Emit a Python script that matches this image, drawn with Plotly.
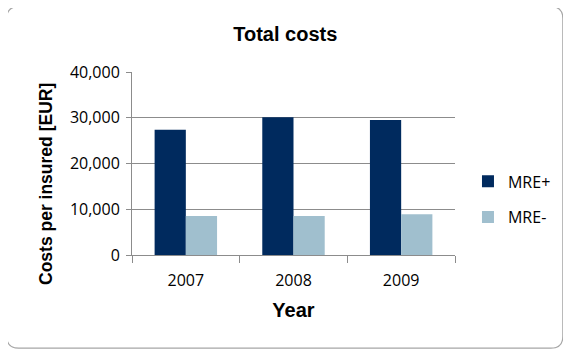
import plotly.graph_objects as go

years = ["2007", "2008", "2009"]
series_names = ["MRE+", "MRE-"]
mre_plus = [27400, 30100, 29500]
mre_minus = [8500, 8500, 8900]
y_ticks = [0, 10000, 20000, 30000, 40000]
y_tick_labels = ["0", "10,000", "20,000", "30,000", "40,000"]

# the page body has an 8px default margin; lay out in window pixels and shift
OFF = 8
WIN_W, WIN_H = 571, 357
W, H = WIN_W - OFF, WIN_H - OFF
L, R, T, B = 131.5 - OFF, WIN_W - 455, 71.5 - OFF, WIN_H - 254.7
pw, ph = W - L - R, H - T - B

def px_x(x):
    return (x - OFF - L) / pw

def px_y(y):
    return (WIN_H - B - y) / ph

fig = go.Figure()
fig.add_trace(go.Bar(x=years, y=mre_plus, name=series_names[0],
                     marker=dict(color="#002A5E", line=dict(width=0)),
                     legendgroup="a"))
fig.add_trace(go.Bar(x=years, y=mre_minus, name=series_names[1],
                     marker=dict(color="#A0BFCE", line=dict(width=0)),
                     legendgroup="b"))

# rounded outer border
x0, x1 = px_x(6), px_x(563)
y0, y1 = px_y(348), px_y(6)
rx = 12 / pw
ry = 12 / ph
path = (f"M {x0+rx},{y0} L {x1-rx},{y0} Q {x1},{y0} {x1},{y0+ry} "
        f"L {x1},{y1-ry} Q {x1},{y1} {x1-rx},{y1} L {x0+rx},{y1} "
        f"Q {x0},{y1} {x0},{y1-ry} L {x0},{y0+ry} Q {x0},{y0} {x0+rx},{y0} Z")

fig.update_layout(
    width=W, height=H,
    margin=dict(l=L, r=R, t=T, b=B, autoexpand=False),
    paper_bgcolor="white", plot_bgcolor="white",
    barmode="group", bargap=0.42, bargroupgap=0,
    title=dict(text="<b>Total costs</b>", x=px_x(285), xref="paper", xanchor="center",
               y=1 - (34 - OFF) / H, yanchor="middle",
               font=dict(family="Liberation Sans", size=20, color="black")),
    font=dict(family="Open Sans", size=16, color="black"),
    showlegend=True,
    legend=dict(x=px_x(468), xanchor="left", y=px_y(164), yanchor="top",
                font=dict(family="Open Sans", size=16, color="black"),
                tracegroupgap=12, bgcolor="rgba(0,0,0,0)"),
    xaxis=dict(
        title=dict(text="<b>Year</b>", font=dict(family="Liberation Sans", size=20, color="black"),
                   standoff=12),
        showline=True, linecolor="#8c8c8c", linewidth=1,
        ticks="outside", tickson="boundaries", ticklen=7, tickcolor="#8c8c8c",
        ticklabelstandoff=11,
        tickfont=dict(family="Open Sans", size=16, color="black"),
        showgrid=False,
    ),
    yaxis=dict(
        range=[0, 40000], tickvals=y_ticks, ticktext=y_tick_labels,
        showline=True, linecolor="#8c8c8c", linewidth=1,
        ticks="outside", ticklen=5, tickcolor="#8c8c8c",
        ticklabelstandoff=3,
        showgrid=True, gridcolor="#8c8c8c", gridwidth=1,
        zeroline=False,
        tickfont=dict(family="Open Sans", size=16, color="black"),
    ),
    annotations=[dict(text="<b>Costs per insured [EUR]</b>", textangle=-90,
                      xref="paper", yref="paper", x=px_x(46), y=px_y(184),
                      xanchor="center", yanchor="middle", showarrow=False,
                      font=dict(family="Liberation Sans", size=17.5, color="black"))],
    shapes=[dict(type="path", path=path, xref="paper", yref="paper",
                 line=dict(color="#a6a6a6", width=1.2), layer="below")],
)

fig.write_html("out.html")
